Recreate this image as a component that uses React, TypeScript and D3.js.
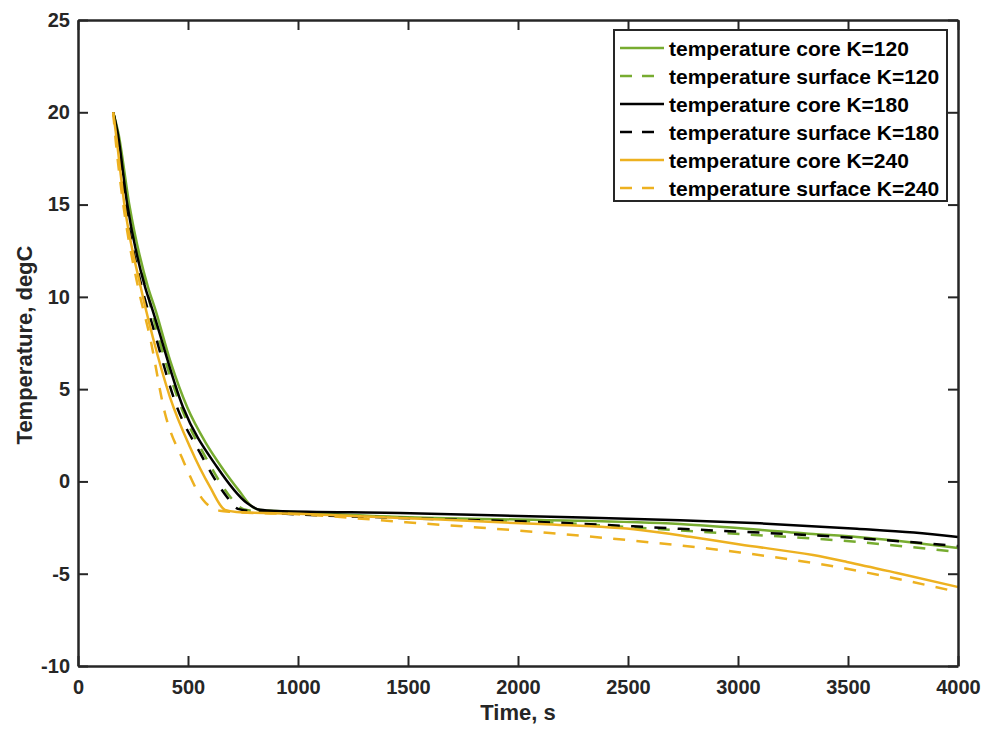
import React, { useEffect, useRef } from "react";
import * as d3 from "d3";

type Pt = [number, number];

// time (s), temperature (degC)
const coreK120: Pt[] = [
  [160, 20], [183, 18.9], [232, 15.08], [318, 10.53], [352, 9.3], [420, 6.5],
  [497, 4.0], [580, 2.1], [660, 0.65], [735, -0.55], [785, -1.3], [830, -1.55],
  [900, -1.6], [1464, -1.93], [2100, -2.09], [2736, -2.31], [3341, -2.85],
  [3541, -3.01], [4000, -3.61]
];
const surfaceK120: Pt[] = [
  [160, 20], [180, 18.9], [226, 15.08], [310, 10.53], [340, 9.0], [460, 4.3],
  [590, 1.1], [700, -0.95], [752, -1.5], [800, -1.6], [1464, -1.95], [2145, -2.22],
  [2780, -2.69], [3541, -3.28], [4000, -3.82]
];
const coreK180: Pt[] = [
  [160, 20], [180, 18.9], [223, 15.08], [305, 10.53], [336, 9.39], [477, 4.03],
  [632, 0.78], [768, -1.17], [827, -1.54], [900, -1.6], [1464, -1.71], [2100, -1.9],
  [2736, -2.1], [3100, -2.27], [3541, -2.56], [3800, -2.77], [4000, -3.01]
];
const surfaceK180: Pt[] = [
  [160, 20], [177, 18.9], [215, 15.08], [290, 10.53], [341, 8.36], [450, 4.03],
  [555, 1.54], [677, -0.84], [727, -1.49], [780, -1.6], [1464, -1.98], [2145, -2.22],
  [2760, -2.58], [3541, -3.07], [4000, -3.5]
];
const coreK240: Pt[] = [
  [160, 20], [172, 18.9], [210, 15.08], [285, 10.53], [341, 7.77], [418, 4.57],
  [509, 1.86], [600, -0.3], [668, -1.54], [720, -1.65], [1000, -1.75], [1464, -1.98],
  [2100, -2.31], [2555, -2.63], [2782, -3.0], [3009, -3.42], [3341, -3.99],
  [3495, -4.36], [3723, -4.96], [4000, -5.72]
];
const surfaceK240: Pt[] = [
  [160, 20], [168, 18.9], [205, 15.08], [273, 10.53], [327, 7.83], [395, 3.71],
  [477, 1.16], [568, -0.99], [645, -1.59], [700, -1.65], [1000, -1.78], [1491, -2.21],
  [2145, -2.8], [2600, -3.3], [3009, -3.85], [3432, -4.6], [4000, -5.99]
];

const seriesNames = [
  "temperature core K=120",
  "temperature surface K=120",
  "temperature core K=180",
  "temperature surface K=180",
  "temperature core K=240",
  "temperature surface K=240"
];
const seriesData = [coreK120, surfaceK120, coreK180, surfaceK180, coreK240, surfaceK240];
const seriesColors = ["#77AC30", "#77AC30", "#000000", "#000000", "#EDB120", "#EDB120"];
const seriesDashed = [false, true, false, true, false, true];

const xTicks = [0, 500, 1000, 1500, 2000, 2500, 3000, 3500, 4000];
const yTicks = [-10, -5, 0, 5, 10, 15, 20, 25];

const W = 984;
const H = 729;
const axisColor = "#262626";
const font = "'Liberation Sans', Arial, Helvetica, sans-serif";

const App = () => {
  const ref = useRef<SVGSVGElement>(null);

  useEffect(() => {
    if (!ref.current) return;
    const svg = d3.select(ref.current);
    svg.selectAll("*").remove();

    const x = d3.scaleLinear().domain([0, 4000]).range([78, 958]);
    const y = d3.scaleLinear().domain([-10, 25]).range([666, 20]);

    svg.append("rect").attr("width", W).attr("height", H).attr("fill", "#fff");

    const line = d3
      .line<Pt>()
      .x((d) => x(d[0]))
      .y((d) => y(d[1]))
      .curve(d3.curveMonotoneX);

    const g = svg.append("g");
    seriesData.forEach((s, i) => {
      g.append("path")
        .attr("d", line(s))
        .attr("fill", "none")
        .attr("stroke", seriesColors[i])
        .attr("stroke-width", 2.5)
        .attr("stroke-dasharray", seriesDashed[i] ? "12 11.3" : null);
    });

    // axes, MATLAB style: ticks inside, box all round
    const styleAxis = (sel: d3.Selection<SVGGElement, unknown, null, undefined>) => {
      sel.select(".domain").attr("stroke", axisColor).attr("stroke-width", 2.5);
      sel.selectAll(".tick line").attr("stroke", axisColor).attr("stroke-width", 2);
      sel.selectAll(".tick text")
        .attr("fill", axisColor)
        .style("font-family", font)
        .style("font-weight", "bold")
        .style("font-size", "20px");
    };
    const plain = (d: d3.NumberValue) => String(d);

    const bottom = svg.append("g").attr("transform", `translate(0,${y(-10)})`);
    bottom.call(
      d3.axisBottom(x).tickValues(xTicks).tickFormat(plain)
        .tickSizeInner(-10).tickSizeOuter(0).tickPadding(14)
    );
    styleAxis(bottom);

    const left = svg.append("g").attr("transform", `translate(${x(0)},0)`);
    left.call(
      d3.axisLeft(y).tickValues(yTicks).tickFormat(plain)
        .tickSizeInner(-10).tickSizeOuter(0).tickPadding(8)
    );
    styleAxis(left);

    const top = svg.append("g").attr("transform", `translate(0,${y(25)})`);
    top.call(d3.axisTop(x).tickValues(xTicks).tickSizeInner(-10).tickSizeOuter(0).tickFormat(() => ""));
    styleAxis(top);

    const right = svg.append("g").attr("transform", `translate(${x(4000)},0)`);
    right.call(d3.axisRight(y).tickValues(yTicks).tickSizeInner(-10).tickSizeOuter(0).tickFormat(() => ""));
    styleAxis(right);

    // axis titles
    svg.append("text")
      .attr("x", 518)
      .attr("y", 720)
      .attr("text-anchor", "middle")
      .attr("fill", axisColor)
      .style("font-family", font)
      .style("font-weight", "bold")
      .style("font-size", "22px")
      .text("Time, s");

    svg.append("text")
      .attr("transform", "translate(32,345) rotate(-90)")
      .attr("text-anchor", "middle")
      .attr("fill", axisColor)
      .style("font-family", font)
      .style("font-weight", "bold")
      .style("font-size", "22px")
      .text("Temperature, degC");

    // legend
    const lg = svg.append("g");
    lg.append("rect")
      .attr("x", 614)
      .attr("y", 30)
      .attr("width", 333)
      .attr("height", 171)
      .attr("fill", "#fff")
      .attr("stroke", axisColor)
      .attr("stroke-width", 2);

    seriesNames.forEach((name, i) => {
      const cy = 48 + i * 28;
      lg.append("line")
        .attr("x1", 620)
        .attr("x2", 664)
        .attr("y1", cy)
        .attr("y2", cy)
        .attr("stroke", seriesColors[i])
        .attr("stroke-width", 2.5)
        .attr("stroke-dasharray", seriesDashed[i] ? "12 10" : null);
      lg.append("text")
        .attr("x", 669)
        .attr("y", cy + 7.5)
        .attr("fill", "#000")
        .style("font-family", font)
        .style("font-weight", "bold")
        .style("font-size", "21px")
        .text(name);
    });
  }, []);

  return (
    <svg
      ref={ref}
      width={W}
      height={H}
      style={{ position: "absolute", left: 0, top: 0, display: "block" }}
    />
  );
};

export default App;
